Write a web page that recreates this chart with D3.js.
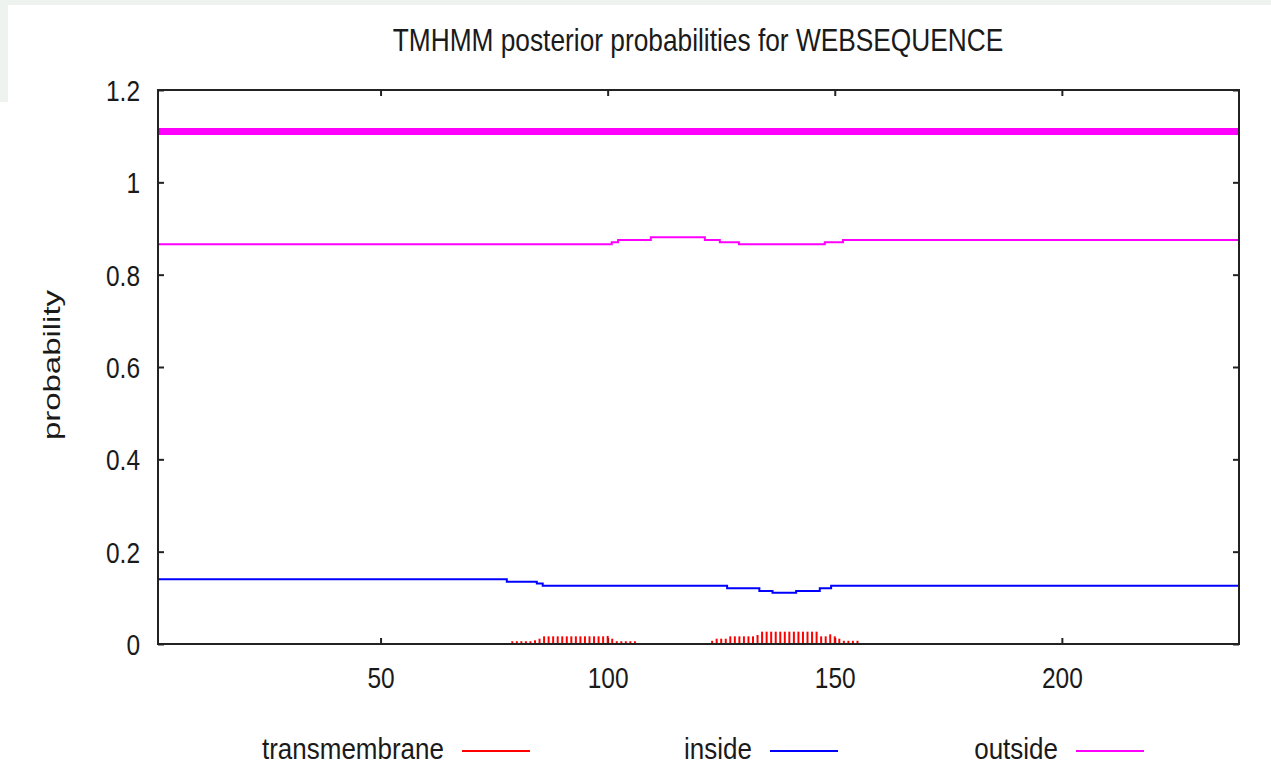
<!DOCTYPE html>
<html>
<head>
<meta charset="utf-8">
<script src="https://cdn.jsdelivr.net/npm/d3@7"></script>
<style>
  body { margin: 0; background: #ffffff; }
  text { font-family: "Liberation Sans", Arial, sans-serif; fill: #1a1a1a; }
</style>
</head>
<body>
<script>
// chart values
var xTicks = [50, 100, 150, 200];
var yTicks = [0, 0.2, 0.4, 0.6, 0.8, 1, 1.2];
var yTickLabels = ["0", "0.2", "0.4", "0.6", "0.8", "1", "1.2"];

// predicted topology (thick line): outside over the whole sequence
var topoX = [1, 239];
var topoY = [1.11, 1.11];

// outside posterior, step change points
var outsideX = [1, 100.9, 102.3, 109.5, 121.4, 124.7, 128.9, 147.8, 151.8, 239];
var outsideY = [0.866, 0.870, 0.875, 0.881, 0.875, 0.870, 0.866, 0.870, 0.875, 0.875];

// inside posterior, step change points
var insideX = [1, 77.8, 84.4, 85.7, 126.3, 133.4, 136.3, 141.5, 146.7, 149.2, 239];
var insideY = [0.140, 0.135, 0.131, 0.126, 0.121, 0.115, 0.111, 0.115, 0.121, 0.126, 0.126];

// transmembrane posterior, drawn as impulses
var tmX = [79, 80, 81, 82, 83, 84, 85, 86, 87, 88, 89, 90, 91, 92, 93, 94, 95, 96, 97, 98, 99,
           100, 101, 102, 103, 104, 105, 106,
           123, 124, 125, 126, 127, 128, 129, 130, 131, 132, 133, 134, 135, 136, 137, 138, 139,
           140, 141, 142, 143, 144, 145, 146, 147, 148, 149, 150, 151, 152, 153, 154, 155];
var tmY = [0.006, 0.006, 0.006, 0.006, 0.006, 0.008, 0.0115, 0.0166, 0.0166, 0.0166, 0.0166,
           0.0166, 0.0166, 0.0166, 0.0166, 0.0166, 0.0166, 0.0166, 0.0166, 0.0166, 0.0166,
           0.0175, 0.0115, 0.006, 0.006, 0.006, 0.006, 0.006,
           0.007, 0.0115, 0.0115, 0.0115, 0.0166, 0.0166, 0.0166, 0.0166, 0.0166, 0.0166, 0.0195,
           0.0267, 0.0267, 0.0267, 0.0267, 0.0267, 0.0267, 0.0267, 0.0267, 0.0267, 0.0267, 0.0267,
           0.0267, 0.0267, 0.0166, 0.0166, 0.021, 0.0166, 0.0115, 0.007, 0.007, 0.007, 0.007];

var legendLabels = ["transmembrane", "inside", "outside"];
var legendColors = ["#ff0000", "#0000ff", "#ff00ff"];

window.onload = function() {
    var w = 1271, h = 766;
    var left = 158, right = 1239, top = 90, bottom = 644;

    var svg = d3.select("body").append("svg")
        .attr("width", w)
        .attr("height", h);

    // the light grey page edge visible at top and left
    svg.append("rect").attr("x", 0).attr("y", 0).attr("width", w).attr("height", 5).style("fill", "#eef3f0");
    svg.append("rect").attr("x", 0).attr("y", 0).attr("width", 8).attr("height", 102).style("fill", "#eef3f0");

    var x = d3.scaleLinear().domain([1, 239]).range([left, right]);
    var y = d3.scaleLinear().domain([0, 1.2]).range([bottom, top]);

    // title
    svg.append("text")
        .attr("transform", "translate(698,51) scale(1,1.17)")
        .attr("text-anchor", "middle")
        .style("font-size", "26.3px")
        .text("TMHMM posterior probabilities for WEBSEQUENCE");

    // y axis label
    svg.append("text")
        .attr("transform", "translate(59.5,365) rotate(-90)")
        .attr("text-anchor", "middle")
        .attr("textLength", 150)
        .attr("lengthAdjust", "spacingAndGlyphs")
        .style("font-size", "24px")
        .text("probability");

    // axes, ticks pointing into the plot like gnuplot
    var gB = svg.append("g").attr("transform", "translate(0," + bottom + ")")
        .call(d3.axisBottom(x).tickValues(xTicks).tickSizeInner(-6).tickSizeOuter(0));
    gB.selectAll("text")
        .attr("y", 36.7).attr("dy", 0)
        .attr("transform", "scale(1,1.2)")
        .style("font-size", "24.5px");

    svg.append("g").attr("transform", "translate(0," + top + ")")
        .call(d3.axisTop(x).tickValues(xTicks).tickSizeInner(-6).tickSizeOuter(0).tickFormat(""));

    var gL = svg.append("g").attr("transform", "translate(" + left + ",0)")
        .call(d3.axisLeft(y).tickValues(yTicks).tickSizeInner(-6).tickSizeOuter(0)
            .tickFormat(function(d, i) { return yTickLabels[i]; }));
    gL.selectAll("text")
        .attr("x", -18).attr("dy", "0.36em")
        .attr("transform", "scale(1,1.2)")
        .style("font-size", "24.5px");

    svg.append("g").attr("transform", "translate(" + right + ",0)")
        .call(d3.axisRight(y).tickValues(yTicks).tickSizeInner(-6).tickSizeOuter(0).tickFormat(""));

    svg.selectAll(".domain").remove();
    svg.selectAll(".tick line").style("stroke", "#222").style("stroke-width", 2);
    svg.selectAll(".tick text").style("fill", "#1a1a1a").style("font-family", "'Liberation Sans', Arial, sans-serif");

    // transmembrane impulses
    svg.selectAll(".tm")
        .data(tmX)
        .enter()
        .append("line")
        .attr("class", "tm")
        .attr("x1", function(d) { return x(d); })
        .attr("x2", function(d) { return x(d); })
        .attr("y1", y(0))
        .attr("y2", function(d, i) { return y(tmY[i]); })
        .style("stroke", "#ff0000")
        .style("stroke-width", 2);

    var step = d3.line()
        .x(function(d) { return x(d[0]); })
        .y(function(d) { return y(d[1]); })
        .curve(d3.curveStepAfter);

    svg.append("path")
        .datum(d3.zip(insideX, insideY))
        .attr("d", step)
        .style("fill", "none").style("stroke", "#0000ff").style("stroke-width", 2);

    svg.append("path")
        .datum(d3.zip(outsideX, outsideY))
        .attr("d", step)
        .style("fill", "none").style("stroke", "#ff00ff").style("stroke-width", 2);

    svg.append("path")
        .datum(d3.zip(topoX, topoY))
        .attr("d", step)
        .style("fill", "none").style("stroke", "#ff00ff").style("stroke-width", 7);

    // plot frame
    svg.append("rect")
        .attr("x", left).attr("y", top)
        .attr("width", right - left).attr("height", bottom - top)
        .style("fill", "none").style("stroke", "#222").style("stroke-width", 2);

    // legend below the plot
    var legendEnds = [444, 752, 1058];
    var legend = svg.selectAll(".legend")
        .data(legendLabels)
        .enter()
        .append("g")
        .attr("class", "legend")
        .attr("transform", function(d, i) { return "translate(" + legendEnds[i] + ",0)"; });

    legend.append("text")
        .attr("transform", "translate(0,759) scale(1,1.12)")
        .attr("text-anchor", "end")
        .style("font-size", "26px")
        .text(function(d) { return d; });

    legend.append("line")
        .attr("x1", 18).attr("x2", 86)
        .attr("y1", 751).attr("y2", 751)
        .style("stroke", function(d, i) { return legendColors[i]; })
        .style("stroke-width", 2);
};
</script>
</body>
</html>
